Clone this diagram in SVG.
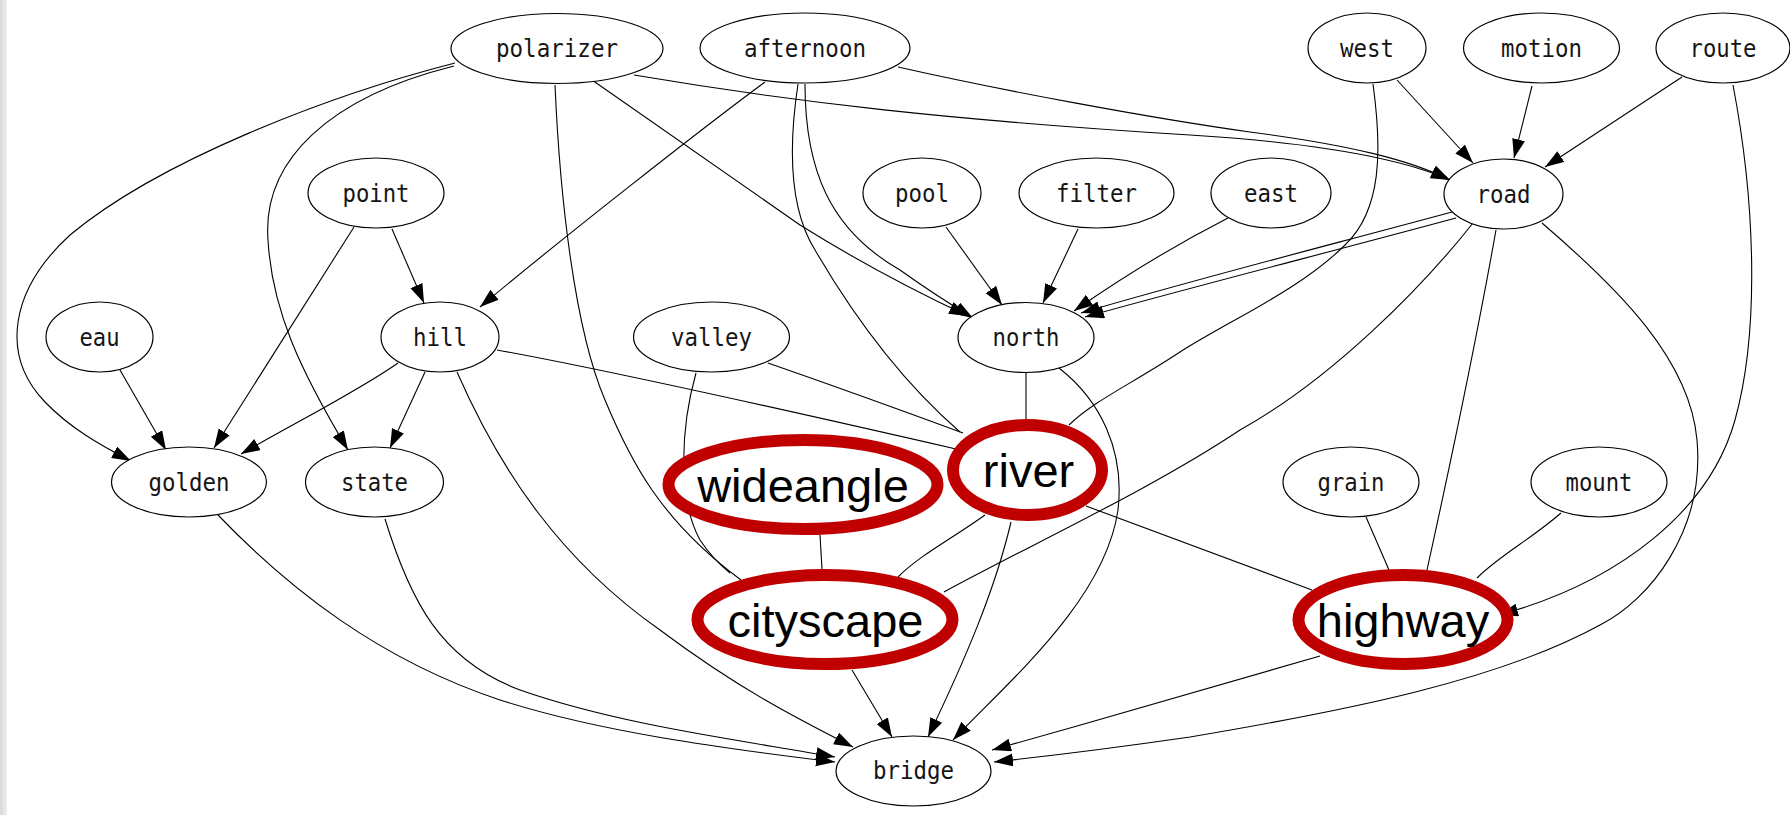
<svg xmlns="http://www.w3.org/2000/svg" width="1790" height="815" viewBox="0 0 1790 815">
  <defs>
    <linearGradient id="edgeBar" x1="0" y1="0" x2="1" y2="0">
      <stop offset="0" stop-color="#d8d8d8"/>
      <stop offset="1" stop-color="#efefef"/>
    </linearGradient>
    <marker id="arr" markerUnits="userSpaceOnUse" markerWidth="20" markerHeight="14" refX="19" refY="6.5" orient="auto">
      <path d="M0,0 L19,6.5 L0,13 z" fill="#000"/>
    </marker>
    <style>
      .e { fill: none; stroke: #000; stroke-width: 1.1; }
      .a { marker-end: url(#arr); }
      .n ellipse { fill: #fff; stroke: #000; stroke-width: 1.2; }
      .n text { font-family: "DejaVu Sans Mono", "Liberation Mono", monospace; font-size: 25px; fill: #151515; text-anchor: middle; }
      .h ellipse { fill: #fff; stroke: #c00000; stroke-width: 12; }
      .h text { font-family: "Liberation Sans", Arial, sans-serif; font-size: 47px; fill: #000; text-anchor: middle; }
    </style>
  </defs>

  <rect x="0" y="0" width="1790" height="815" fill="#fff"/>
  <rect x="0" y="0" width="7" height="815" fill="url(#edgeBar)"/>

  <g id="connectors">
    <path class="e a" d="M455,63 C330,95 160,160 70,235 C10,290 0,355 45,402 C70,428 100,445 131,461"/>
    <path class="e a" d="M454,66 C330,97 262,160 268,240 C272,310 300,370 348,450"/>
    <path class="e" d="M555,85 C560,200 575,330 605,400 C630,460 660,520 741,580"/>
    <path class="e a" d="M592,80 L800,225 Q880,275 968,316"/>
    <path class="e a" d="M634,75 C800,103 950,120 1190,135 C1320,143 1400,158 1450,180"/>
    <path class="e a" d="M765,82 C700,130 560,240 480,307"/>
    <path class="e a" d="M805,84 C805,170 830,230 900,270 Q935,295 973,318"/>
    <path class="e" d="M798,84 C788,150 790,210 815,250 C850,310 900,380 960,432"/>
    <path class="e a" d="M898,67 C1000,90 1150,118 1250,132 C1350,145 1410,160 1450,180"/>
    <path class="e a" d="M1397,80 L1473,163"/>
    <path class="e" d="M1373,84 C1382,150 1382,210 1345,245 C1300,290 1230,320 1180,352 C1130,385 1095,400 1069,425"/>
    <path class="e a" d="M1532,86 L1514,158"/>
    <path class="e a" d="M1682,77 L1545,167"/>
    <!-- route to highway: arrowhead mostly tucked under the highlighted ring -->
    <path class="e a" d="M1733,85 C1755,200 1760,330 1735,420 C1710,510 1620,582 1499,615"/>
    <path class="e a" d="M392,229 L424,303"/>
    <path class="e a" d="M354,227 L214,448"/>
    <path class="e a" d="M946,227 L1002,305"/>
    <path class="e a" d="M1078,229 L1043,303"/>
    <path class="e a" d="M1228,218 Q1150,258 1074,311"/>
    <path class="e a" d="M1452,212 C1330,245 1200,278 1081,313"/>
    <path class="e a" d="M1456,218 C1330,252 1200,285 1085,317"/>
    <path class="e" d="M1473,223 C1420,290 1330,380 1240,430 C1150,490 1030,545 944,592"/>
    <path class="e" d="M1496,230 C1480,320 1460,420 1427,570"/>
    <path class="e a" d="M1542,223 C1620,290 1690,360 1697,440 C1705,530 1650,600 1600,625 C1500,680 1350,710 1190,737 C1100,750 1040,757 994,762"/>
    <path class="e a" d="M120,370 L166,450"/>
    <path class="e a" d="M398,363 C360,390 300,420 241,454"/>
    <path class="e a" d="M425,372 L390,448"/>
    <path class="e" d="M497,350 Q620,372 956,449"/>
    <path class="e a" d="M457,372 C500,470 560,560 660,630 C740,690 800,720 853,747"/>
    <path class="e" d="M768,363 Q860,395 963,433"/>
    <path class="e" d="M696,373 C680,430 678,500 700,540 C710,555 720,565 730,573"/>
    <path class="e" d="M1026,372 L1026,419"/>
    <path class="e a" d="M1059,368 C1100,400 1125,450 1118,510 C1105,600 1010,680 953,740"/>
    <path class="e a" d="M218,515 C290,590 380,660 500,700 C600,732 720,748 835,762"/>
    <path class="e a" d="M385,519 C410,600 440,660 520,690 C620,725 740,740 835,757"/>
    <path class="e" d="M820,535 L822,569"/>
    <path class="e" d="M985,515 C950,540 920,555 898,577"/>
    <path class="e a" d="M1011,522 C995,590 965,660 928,737"/>
    <path class="e" d="M1086,506 L1312,590"/>
    <path class="e" d="M1366,517 L1389,570"/>
    <path class="e" d="M1561,513 C1530,540 1500,555 1477,578"/>
    <path class="e a" d="M852,670 L892,737"/>
    <path class="e a" d="M1320,656 C1200,690 1100,720 992,750"/>
  </g>

  <g id="polarizer" class="n"><ellipse cx="557" cy="48.5" rx="106" ry="35"/><text x="557" y="57" textLength="122" lengthAdjust="spacingAndGlyphs">polarizer</text></g>
  <g id="afternoon" class="n"><ellipse cx="805" cy="48" rx="105" ry="35"/><text x="805" y="56.5" textLength="122" lengthAdjust="spacingAndGlyphs">afternoon</text></g>
  <g id="west" class="n"><ellipse cx="1367" cy="48" rx="59" ry="35"/><text x="1367" y="56.5" textLength="54" lengthAdjust="spacingAndGlyphs">west</text></g>
  <g id="motion" class="n"><ellipse cx="1541.5" cy="48" rx="78" ry="35"/><text x="1541.5" y="56.5" textLength="81" lengthAdjust="spacingAndGlyphs">motion</text></g>
  <g id="route" class="n"><ellipse cx="1723" cy="48" rx="67" ry="35"/><text x="1723" y="56.5" textLength="67" lengthAdjust="spacingAndGlyphs">route</text></g>

  <g id="point" class="n"><ellipse cx="376" cy="193" rx="68" ry="35"/><text x="376" y="201.5" textLength="67" lengthAdjust="spacingAndGlyphs">point</text></g>
  <g id="pool" class="n"><ellipse cx="922" cy="193" rx="59" ry="35"/><text x="922" y="201.5" textLength="54" lengthAdjust="spacingAndGlyphs">pool</text></g>
  <g id="filter" class="n"><ellipse cx="1096.5" cy="193" rx="77.5" ry="35"/><text x="1096.5" y="201.5" textLength="81" lengthAdjust="spacingAndGlyphs">filter</text></g>
  <g id="east" class="n"><ellipse cx="1271" cy="193" rx="60" ry="35"/><text x="1271" y="201.5" textLength="54" lengthAdjust="spacingAndGlyphs">east</text></g>
  <g id="road" class="n"><ellipse cx="1503.5" cy="194" rx="59.5" ry="35"/><text x="1503.5" y="202.5" textLength="54" lengthAdjust="spacingAndGlyphs">road</text></g>

  <g id="eau" class="n"><ellipse cx="99.5" cy="337" rx="53.5" ry="35"/><text x="99.5" y="345.5" textLength="40" lengthAdjust="spacingAndGlyphs">eau</text></g>
  <g id="hill" class="n"><ellipse cx="440" cy="337" rx="59" ry="35"/><text x="440" y="345.5" textLength="54" lengthAdjust="spacingAndGlyphs">hill</text></g>
  <g id="valley" class="n"><ellipse cx="711.5" cy="337" rx="78" ry="35"/><text x="711.5" y="345.5" textLength="81" lengthAdjust="spacingAndGlyphs">valley</text></g>
  <g id="north" class="n"><ellipse cx="1026" cy="337.5" rx="68" ry="35"/><text x="1026" y="346" textLength="67" lengthAdjust="spacingAndGlyphs">north</text></g>

  <g id="golden" class="n"><ellipse cx="189" cy="482" rx="77.5" ry="35"/><text x="189" y="490.5" textLength="81" lengthAdjust="spacingAndGlyphs">golden</text></g>
  <g id="state" class="n"><ellipse cx="374.5" cy="482" rx="69" ry="35"/><text x="374.5" y="490.5" textLength="67" lengthAdjust="spacingAndGlyphs">state</text></g>
  <g id="grain" class="n"><ellipse cx="1351" cy="482" rx="68" ry="35"/><text x="1351" y="490.5" textLength="67" lengthAdjust="spacingAndGlyphs">grain</text></g>
  <g id="mount" class="n"><ellipse cx="1599" cy="482" rx="68" ry="35"/><text x="1599" y="490.5" textLength="67" lengthAdjust="spacingAndGlyphs">mount</text></g>

  <g id="bridge" class="n"><ellipse cx="913.5" cy="771" rx="77.5" ry="35"/><text x="913.5" y="779" textLength="81" lengthAdjust="spacingAndGlyphs">bridge</text></g>

  <g id="wideangle" class="h"><ellipse cx="803" cy="484.5" rx="134.5" ry="44.5"/><text x="803" y="501.5">wideangle</text></g>
  <g id="river" class="h"><ellipse cx="1027.5" cy="470" rx="74.5" ry="45"/><text x="1028.5" y="487">river</text></g>
  <g id="cityscape" class="h"><ellipse cx="825" cy="619.5" rx="127.5" ry="44.5"/><text x="825.5" y="637">cityscape</text></g>
  <g id="highway" class="h"><ellipse cx="1403" cy="619.5" rx="104.5" ry="44.5"/><text x="1403" y="637">highway</text></g>
</svg>
